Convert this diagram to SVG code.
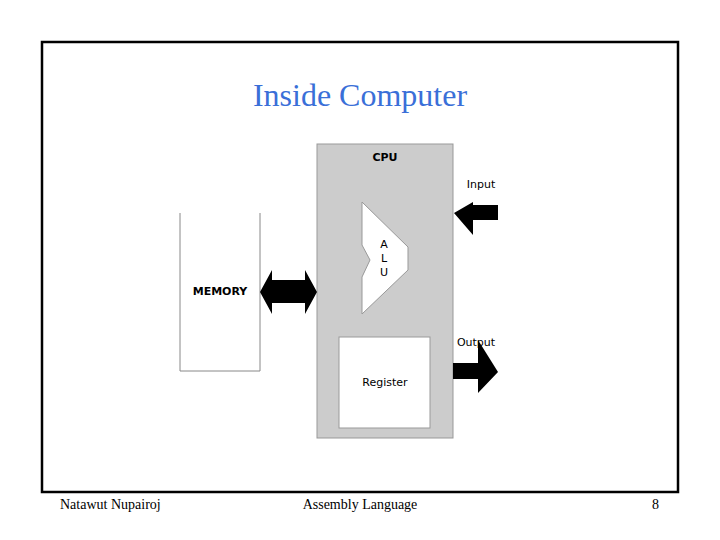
<svg xmlns="http://www.w3.org/2000/svg" width="720" height="540" viewBox="0 0 720 540">
<style>
.s{font-family:"DejaVu Sans","Liberation Sans",sans-serif;font-size:11px;fill:#000;text-anchor:middle}
.b{font-weight:bold}
.f{font-family:"Liberation Serif",serif;font-size:14px;fill:#000}
</style>
<rect width="720" height="540" fill="#fff"/>
<rect x="42" y="42" width="636" height="450" fill="none" stroke="#000" stroke-width="2.5"/>
<text x="360" y="106" text-anchor="middle" font-family="Liberation Serif,serif" font-size="32" fill="#3a6fd8">Inside Computer</text>
<g id="memory">
<path d="M180 213V371H260V213" fill="#fff" stroke="#888" stroke-width="1"/>
<text class="s b" x="220" y="295">MEMORY</text>
</g>
<g id="cpu">
<rect x="317" y="144" width="136" height="294" fill="#cccccc" stroke="#999" stroke-width="1"/>
<text class="s b" x="385" y="161">CPU</text>
</g>
<g id="alu">
<polygon points="362,202 408,247 408,270 362,314 362,277 370,260 362,245" fill="#fff" stroke="#999" stroke-width="1"/>
<text class="s" x="384" y="248">A</text>
<text class="s" x="384" y="262">L</text>
<text class="s" x="384" y="276">U</text>
</g>
<g id="register">
<rect x="339" y="337" width="91" height="91" fill="#fff" stroke="#999" stroke-width="1"/>
<text class="s" x="385" y="386">Register</text>
</g>
<g id="connectors" fill="#000">
<polygon points="260,292 272,270 272,280 305,280 305,270 317,292 305,314 305,303 272,303 272,314"/>
<polygon points="454,213 473,202 473,205 498,205 498,220 473,220 473,235"/>
<polygon points="453,363 478,363 478,340 498,372 478,393 478,379 453,379"/>
</g>
<text class="s" x="481" y="188">Input</text>
<text class="s" x="476" y="346">Output</text>
<text class="f" x="60" y="509">Natawut Nupairoj</text>
<text class="f" x="360" y="509" text-anchor="middle">Assembly Language</text>
<text class="f" x="659" y="509" text-anchor="end">8</text>
</svg>
